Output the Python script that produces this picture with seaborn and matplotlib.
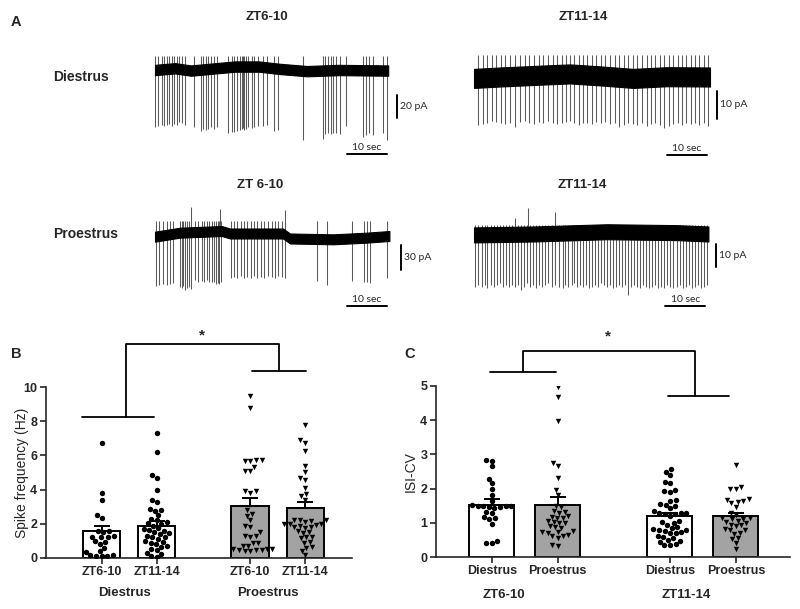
import numpy as np
import pandas as pd
import matplotlib
matplotlib.use("Agg")
import matplotlib.pyplot as plt
import matplotlib.transforms as mtrans
import seaborn as sns

# --- DATA: panel A traces (time in s, current in pA relative to baseline) ---
t1_spike_s = [0.0, 0.83, 1.67, 2.25, 2.92, 3.58, 4.17, 4.83, 5.42, 6.08, 6.67, 7.5, 9.83,
              11.5, 12.08, 12.67, 13.33, 14.0, 14.75, 15.58, 18.33, 19.17, 19.83, 20.42,
              21.25, 21.67, 22.08, 22.33, 22.75, 23.33, 24.17, 24.83, 25.83, 26.92, 27.92,
              29.83, 30.67, 37.08, 41.92, 42.58, 43.33, 43.92, 44.58, 45.25, 46.25, 47.75,
              51.92, 52.75, 53.58, 54.58, 56.92, 57.92]
t1_depth_pa = [49.3, 48.7, 48.1, 48.7, 47.8, 47.0, 48.7, 47.0, 47.5, 44.9, 46.4, 48.1, 49.9,
               52.8, 51.6, 52.2, 51.0, 49.9, 51.0, 49.9, 54.5, 53.6, 53.9, 53.3, 52.2, 51.0,
               50.7, 52.2, 51.6, 49.9, 50.4, 49.9, 48.7, 48.7, 48.1, 52.8, 52.2, 60.9, 60.3,
               55.7, 55.1, 55.7, 54.5, 55.1, 55.7, 48.7, 58.6, 56.8, 55.1, 56.2, 55.1, 60.9]
t1_base_s = [0, 5, 9, 20, 26, 31, 38, 46, 58.3]
t1_base_pa = [0, 1.5, -0.5, 3, 3, 1, -1, 0, -0.5]

t2_spike_s = [1.08, 2.17, 3.33, 4.42, 5.5, 6.67, 7.83, 9.0, 10.25, 11.5, 12.67, 13.83, 15.0,
              16.17, 17.33, 18.5, 19.67, 20.83, 21.92, 23.0, 24.0, 25.08, 26.17, 27.25,
              28.33, 29.42, 30.58, 31.75, 32.83, 34.0, 35.17, 36.33, 37.42, 38.5, 39.67,
              40.83, 42.0, 43.17, 44.25, 45.33, 46.42, 47.5, 48.67, 49.83, 50.92, 52.0,
              53.08, 54.17, 55.25, 56.33, 57.42, 58.5]
t2_depth_pa = [17.1, 16.8, 16.5, 15.6, 16.0, 16.5, 16.8, 16.3, 17.7, 16.0,
               15.6, 16.3, 16.8, 16.0, 16.5, 15.6, 16.3, 16.8, 16.3, 16.0,
               15.6, 16.5, 17.1, 16.5, 16.3, 16.8, 16.0, 16.5, 16.0, 16.8,
               16.3, 17.7, 17.1, 16.3, 16.8, 17.1, 16.5, 17.5, 16.8, 16.3,
               17.1, 18.3, 17.5, 16.8, 16.3, 17.1, 16.5, 16.8, 16.3, 17.1,
               16.5, 17.5]
t2_base_s = [0, 6.5, 17.3, 24, 31.5, 39.8, 48.2, 59]
t2_base_pa = [-0.5, 0, 0.7, 1.1, 0.4, -0.5, 0.1, 0]

t3_spike_s = [0.25, 1.08, 2.08, 2.92, 3.75, 4.42, 6.25, 6.67, 7.08, 7.58, 7.92, 8.42, 8.92,
              10.0, 10.83, 11.67, 12.25, 12.92, 13.58, 14.17, 14.75, 15.25, 15.67, 16.08,
              16.5, 18.92, 19.75, 20.58, 21.42, 22.25, 23.08, 23.92, 24.75, 25.58, 26.42,
              27.25, 28.33, 29.17, 30.0, 30.83, 31.67, 32.5, 40.42, 42.92, 49.17, 52.25,
              52.92, 53.75, 57.92]
t3_depth_pa = [60, 59, 57.8, 59.4, 57.8, 56.2, 61, 63, 60, 65, 62.7, 61, 64,
               53, 55, 54, 56, 53, 55, 56, 55.4, 58, 57, 58, 56,
               50, 49, 51, 48, 50, 49, 51, 48, 50, 49, 50, 48, 49, 50, 48, 49, 50,
               54, 59, 54, 56, 55, 57, 51]
t3_tall_s = [8.9, 16.2, 32.5]
t3_tall_pa = [35, 32, 31]
t3_base_s = [0, 6.25, 16.7, 18.75, 32, 33.75, 44.6, 52.9, 58.6]
t3_base_pa = [-0.8, 4, 6, 3, 3, -3, -4, -2, 0]

t4_spike_s = [0.25, 1.08, 1.92, 2.75, 3.33, 4.17, 5.0, 5.67, 6.5, 7.33, 8.0, 8.83, 9.5,
              10.25, 11.08, 11.67, 12.5, 13.17, 14.0, 14.67, 15.5, 16.17, 16.92, 17.75,
              18.58, 19.42, 20.25, 21.33, 22.17, 22.83, 23.58, 24.42, 25.08, 25.83, 26.5,
              27.33, 28.0, 28.75, 29.5, 30.25, 31.0, 31.75, 32.5, 33.17, 34.0, 34.67,
              35.42, 36.17, 36.92, 37.67, 38.5, 39.17, 39.92, 40.67, 41.42, 42.17, 42.92,
              43.67, 44.42, 45.17, 45.92, 46.67, 47.42, 48.17, 49.0, 49.83, 50.67, 51.5,
              52.17, 52.92, 53.67, 54.42, 55.17, 55.92, 56.67, 57.42, 58.17]
t4_depth_pa = [23.2, 22.5, 23.2, 22.5, 23.9, 22.5, 23.2, 22.5, 21.7, 23.2,
               22.5, 23.2, 22.5, 23.2, 22.5, 24.7, 23.2, 21.7, 23.2, 22.5,
               23.9, 22.5, 23.2, 22.5, 21.7, 23.2, 22.5, 23.2, 23.9, 22.5,
               23.2, 22.5, 21.7, 23.2, 22.5, 23.2, 22.5, 23.9, 23.2, 22.5,
               23.2, 21.7, 22.5, 23.2, 22.5, 23.9, 23.2, 22.5, 23.2, 22.5,
               26.9, 23.2, 22.5, 23.2, 23.9, 22.5, 23.2, 23.9, 23.2, 22.5,
               23.9, 23.2, 23.9, 22.5, 23.2, 23.9, 23.2, 22.5, 23.9, 23.2,
               22.5, 23.9, 23.2, 22.5, 23.9, 23.2, 22.5]
t4_tall_s = [10.25, 13.4, 20.3]
t4_tall_pa = [7, 11.3, 9.8]
t4_base_s = [0, 14.8, 33.2, 50.7, 58.6]
t4_base_pa = [-0.4, 0, 1.0, 0.6, 0]

# --- DATA: panel B, spike frequency (Hz) ---
freq_cycle = ["Diestrus", "Diestrus", "Proestrus", "Proestrus"]
freq_zt = ["ZT6-10", "ZT11-14", "ZT6-10", "ZT11-14"]
freq_mean = [1.58, 1.88, 3.03, 2.93]
freq_sem = [0.28, 0.29, 0.46, 0.35]
freq_d_zt6 = [6.7, 3.8, 3.4, 2.5, 2.35, 1.6, 1.55, 1.5, 1.3, 1.25, 1.2, 1.2, 1.0, 0.95,
              0.8, 0.6, 0.4, 0.35, 0.15, 0.15, 0.12, 0.1, 0.1]
freq_d_zt11 = [7.3, 6.2, 4.85, 4.7, 4.0, 3.4, 3.25, 2.85, 2.8, 2.75, 2.5, 2.3, 2.2, 2.1,
               2.05, 2.0, 1.9, 1.75, 1.7, 1.65, 1.6, 1.5, 1.45, 1.4, 1.3, 1.25, 1.2, 1.1,
               1.0, 0.95, 0.9, 0.8, 0.7, 0.65, 0.5, 0.45, 0.3, 0.25, 0.1, 0.05]
freq_p_zt6 = [9.5, 8.75, 5.75, 5.75, 5.7, 5.7, 5.35, 5.1, 5.1, 3.9, 3.9, 3.8, 2.8, 2.6,
              2.45, 2.2, 1.85, 1.8, 1.5, 1.3, 1.3, 1.25, 0.9, 0.9, 0.7, 0.7, 0.5, 0.5,
              0.45, 0.45, 0.45, 0.4, 0.4, 0.55]
freq_p_zt11 = [7.8, 6.9, 6.75, 6.25, 5.4, 5.05, 4.65, 4.55, 4.1, 3.75, 3.6, 3.4, 2.2, 2.2,
               2.2, 2.15, 2.1, 2.0, 2.0, 2.0, 1.95, 1.85, 1.8, 1.8, 1.75, 1.55, 1.5, 1.45,
               1.25, 1.2, 1.15, 0.95, 0.9, 0.65, 0.6, 0.4, 0.15]

# --- DATA: panel C, ISI-CV ---
isi_zt = ["ZT6-10", "ZT6-10", "ZT11-14", "ZT11-14"]
isi_cycle = ["Diestrus", "Proestrus", "Diestrus", "Proestrus"]
isi_mean = [1.52, 1.52, 1.21, 1.20]
isi_sem = [0.17, 0.23, 0.09, 0.10]
isi_d_zt6 = [2.84, 2.82, 2.66, 2.28, 2.15, 1.98, 1.81, 1.65, 1.52, 1.5, 1.5, 1.48, 1.48,
             1.46, 1.45, 1.44, 1.32, 1.3, 1.16, 1.15, 1.1, 0.96, 0.47, 0.42, 0.4]
isi_p_zt6 = [4.98, 4.68, 3.97, 2.75, 2.65, 2.3, 1.95, 1.8, 1.5, 1.45, 1.35, 1.32, 1.3, 1.2,
             1.18, 1.15, 1.15, 1.05, 1.03, 1.0, 1.0, 0.9, 0.88, 0.85, 0.75, 0.73, 0.72,
             0.7, 0.65, 0.62, 0.6, 0.55, 0.35, 0.33]
isi_d_zt11 = [2.56, 2.5, 2.4, 2.2, 2.15, 1.95, 1.92, 1.9, 1.68, 1.65, 1.55, 1.52, 1.5,
              1.42, 1.35, 1.3, 1.3, 1.28, 1.25, 1.25, 1.2, 1.05, 1.02, 1.0, 0.95, 0.88,
              0.85, 0.82, 0.8, 0.78, 0.75, 0.72, 0.7, 0.7, 0.6, 0.58, 0.55, 0.5, 0.48,
              0.45, 0.38, 0.35, 0.35]
isi_p_zt11 = [2.7, 2.05, 2.0, 1.98, 1.7, 1.68, 1.65, 1.62, 1.57, 1.47, 1.28, 1.22, 1.15,
              1.13, 1.12, 1.1, 1.05, 1.03, 1.0, 0.95, 0.93, 0.9, 0.82, 0.8, 0.78, 0.7,
              0.68, 0.55, 0.52, 0.4, 0.22]

# layout
W, H = 800, 609
bar_pos = [0, 1, 2.7, 3.7]
palette = {"Diestrus": "white", "Proestrus": "#a3a3a3"}
markers = {"Diestrus": "o", "Proestrus": "v"}

sns.set_style("ticks")
plt.rcParams["font.family"] = ["Liberation Sans", "DejaVu Sans"]
fig = plt.figure(figsize=(W / 100, H / 100), dpi=100)


def ftext(px, py, s, **kw):
    fig.text(px / W, 1 - py / H, s, **kw)


# --- PANEL A ---
def trace_axes(x0, y0, x1, y1, t0_px, base_px, px_per_pa):
    ax = fig.add_axes([x0 / W, 1 - y1 / H, (x1 - x0) / W, (y1 - y0) / H])
    ax.set_xlim((x0 - t0_px) / 4.0, (x1 - t0_px) / 4.0)
    ax.set_ylim((base_px - y1) / px_per_pa, (base_px - y0) / px_per_pa)
    ax.axis("off")
    return ax


def draw_trace(ax, spikes, depths, up, base_s, base_pa, half_band, tall_s=None, tall_pa=None):
    base_pa = np.array(base_pa)
    ax.fill_between(base_s, base_pa - half_band, base_pa + half_band,
                    color="black", lw=0.8, zorder=3)
    ax.vlines(spikes, -np.array(depths), up, color="#5a5a5a", lw=0.75, zorder=2)
    if tall_s is not None:
        ax.vlines(tall_s, 0, tall_pa, color="#5a5a5a", lw=0.75, zorder=2)


def scale_bars(ax, x_s, y_top, pa, sec_x, sec_y):
    ax.plot([x_s, x_s], [y_top, y_top - pa], color="black", lw=1.4, clip_on=False)
    ax.annotate(f"{pa} pA", xy=(x_s, y_top - pa / 2), xytext=(2.5, 0),
                textcoords="offset points", ha="left", va="center",
                fontsize=7.5, family=["Lato", "DejaVu Sans"])
    ax.plot([sec_x, sec_x + 10], [sec_y, sec_y], color="black", lw=1.4, clip_on=False)
    ax.annotate("10 sec", xy=(sec_x + 5, sec_y), xytext=(0, 1.5),
                textcoords="offset points", ha="center", va="bottom",
                fontsize=7.5, family=["Lato", "DejaVu Sans"])


ax1 = trace_axes(140, 30, 440, 165, 155, 70, 1.15)
draw_trace(ax1, t1_spike_s, t1_depth_pa, 12, t1_base_s, t1_base_pa, 4.5)
scale_bars(ax1, 60.4, -21.7, 20, 48, -73)

ax2 = trace_axes(460, 30, 760, 165, 474, 77, 2.8)
draw_trace(ax2, t2_spike_s, t2_depth_pa, 8, t2_base_s, t2_base_pa, 3.4)
scale_bars(ax2, 60.7, -4.9, 10, 48.2, -27.9)

ax3 = trace_axes(140, 195, 440, 315, 155, 236, 0.83)
draw_trace(ax3, t3_spike_s, t3_depth_pa, 18, t3_base_s, t3_base_pa, 6, t3_tall_s, t3_tall_pa)
scale_bars(ax3, 61.4, -10.8, 30, 48, -84)

ax4 = trace_axes(460, 195, 760, 315, 474, 234, 2.27)
draw_trace(ax4, t4_spike_s, t4_depth_pa, 4, t4_base_s, t4_base_pa, 3.3, t4_tall_s, t4_tall_pa)
scale_bars(ax4, 60.5, -4.4, 10, 47.8, -31.6)

ftext(11, 22, "A", fontsize=10.5, fontweight="bold", va="center")
ftext(267, 17, "ZT6-10", fontsize=9.5, fontweight="bold", ha="center", va="center")
ftext(583, 17, "ZT11-14", fontsize=9.5, fontweight="bold", ha="center", va="center")
ftext(260, 185, "ZT 6-10", fontsize=9.5, fontweight="bold", ha="center", va="center")
ftext(582, 185, "ZT11-14", fontsize=9.5, fontweight="bold", ha="center", va="center")
ftext(53, 77, "Diestrus", fontsize=10, fontweight="bold", va="center")
ftext(53, 234, "Proestrus", fontsize=10, fontweight="bold", va="center")


# --- PANELS B and C ---
def bar_panel(rect, xlim, ylim, yticks, cycles, means, sems, points, ticklabels,
              group_labels, group_x, group_py, ylabel, ylabel_x):
    ax = fig.add_axes(rect)
    bars = pd.DataFrame({"pos": bar_pos, "mean": means, "cycle": cycles})
    sns.barplot(data=bars, x="pos", y="mean", hue="cycle", palette=palette,
                native_scale=True, orient="x", width=0.68, errorbar=None, dodge=False,
                edgecolor="black", linewidth=1.4, legend=False, ax=ax, zorder=2)
    ax.errorbar(bar_pos, means, yerr=[np.zeros(len(means)), sems], fmt="none",
                ecolor="black", elinewidth=1.4, capsize=6, capthick=1.4, zorder=3)
    rows = []
    for p, c, vals in zip(bar_pos, cycles, points):
        rows += [{"pos": p, "cycle": c, "value": v} for v in vals]
    pts = pd.DataFrame(rows)
    for c in ["Diestrus", "Proestrus"]:
        sns.swarmplot(data=pts[pts["cycle"] == c], x="pos", y="value", native_scale=True,
                      orient="x", color="black", marker=markers[c], size=3.9, ax=ax,
                      zorder=4)
    ax.set_xlim(*xlim)
    ax.set_ylim(*ylim)
    ax.set_yticks(yticks, labels=[str(t) for t in yticks], fontsize=9, fontweight="bold")
    ax.set_xticks(bar_pos, labels=ticklabels, fontsize=9, fontweight="bold")
    ax.tick_params(width=1.2, length=4, pad=2)
    ax.set_xlabel("")
    ax.set_ylabel(ylabel, fontsize=10)
    ax.yaxis.label.set_va("center")
    ax.yaxis.set_label_coords(ylabel_x, 0.5)
    sns.despine(ax=ax)
    for s in ["left", "bottom"]:
        ax.spines[s].set_linewidth(1.2)
    tr = mtrans.blended_transform_factory(ax.transData, fig.transFigure)
    for gx, gl in zip(group_x, group_labels):
        ax.text(gx, 1 - group_py / H, gl, transform=tr, ha="center", va="center",
                fontsize=9.5, fontweight="bold")
    return ax


ax_b = bar_panel([45.5 / W, 1 - 558 / H, 306.5 / W, 171 / H], (-1.02, 4.55), (0, 10),
                 [0, 2, 4, 6, 8, 10], freq_cycle, freq_mean, freq_sem,
                 [freq_d_zt6, freq_d_zt11, freq_p_zt6, freq_p_zt11], freq_zt,
                 ["Diestrus", "Proestrus"], [0.42, 3.03], 593,
                 "Spike frequency (Hz)", -0.078)
bk = dict(color="black", lw=1.3, clip_on=False)
ax_b.plot([0.45, 0.45, 3.23, 3.23], [8.26, 12.5, 12.5, 10.95], **bk)
ax_b.plot([-0.36, 0.96], [8.26, 8.26], **bk)
ax_b.plot([2.74, 3.71], [10.95, 10.95], **bk)
ax_b.text(1.82, 13.0, "*", ha="center", va="center", fontsize=11, fontweight="bold")

ax_c = bar_panel([435.7 / W, 1 - 557 / H, 354.3 / W, 171 / H], (-0.85, 4.52), (0, 5),
                 [0, 1, 2, 3, 4, 5], isi_cycle, isi_mean, isi_sem,
                 [isi_d_zt6, isi_p_zt6, isi_d_zt11, isi_p_zt11], isi_cycle,
                 ["ZT6-10", "ZT11-14"], [0.18, 2.95], 595, "ISI-CV", -0.07)
ax_c.plot([0.47, 0.47, 3.08, 3.08], [5.40, 6.03, 6.03, 4.71], **bk)
ax_c.plot([-0.02, 0.97], [5.40, 5.40], **bk)
ax_c.plot([2.67, 3.6], [4.71, 4.71], **bk)
ax_c.text(1.76, 6.45, "*", ha="center", va="center", fontsize=11, fontweight="bold")

ftext(11, 354, "B", fontsize=10.5, fontweight="bold", va="center")
ftext(404, 354, "C", fontsize=10.5, fontweight="bold", va="center")

fig.savefig("out.png", dpi=100)
